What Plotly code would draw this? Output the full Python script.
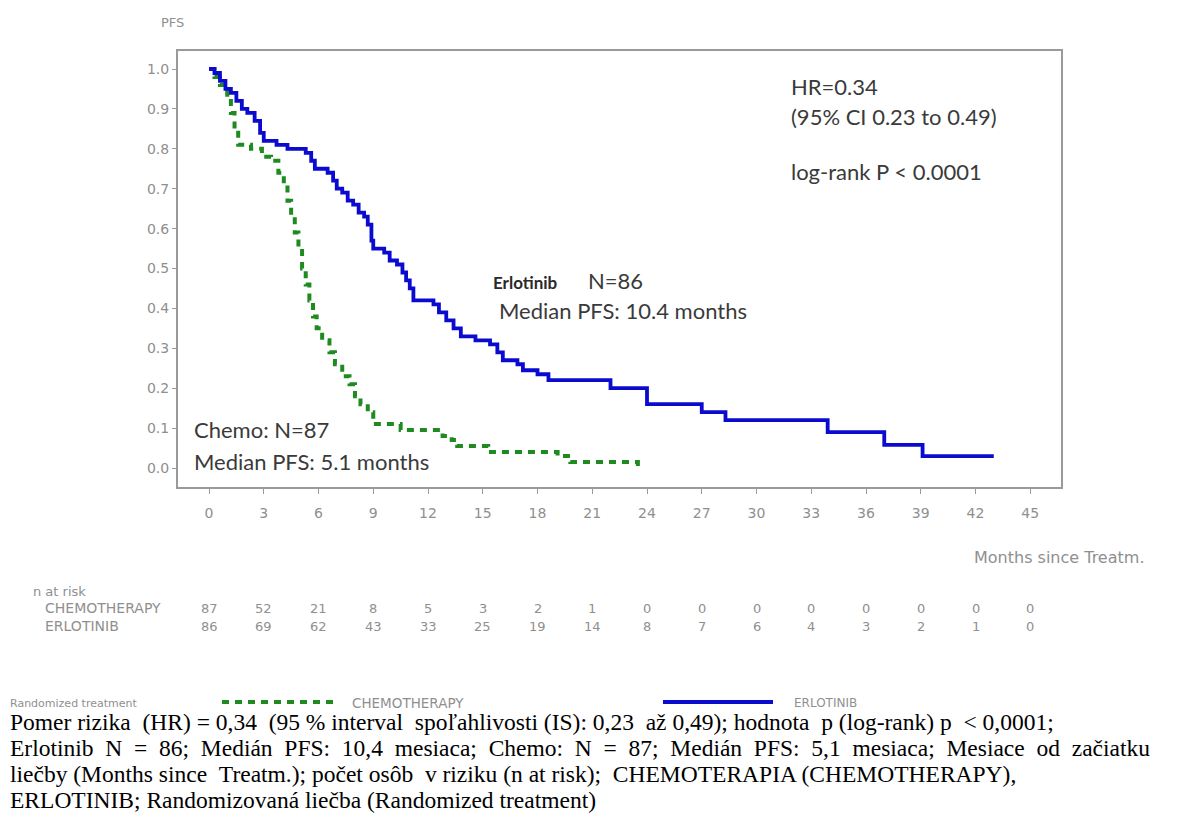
import plotly.graph_objects as go

# ---------------- data ----------------
erlo_t = [0, 0.3, 0.6, 0.9, 1.2, 1.5, 1.8, 2.1, 2.5, 2.8, 3.0, 3.7, 4.3, 5.3, 5.6, 5.8, 6.5, 6.8,
          7.0, 7.3, 7.6, 7.9, 8.2, 8.5, 8.7, 8.9, 9.0, 9.6, 9.9, 10.3, 10.6, 10.8, 11.0, 11.2,
          12.3, 12.6, 13.0, 13.4, 13.8, 14.6, 15.4, 15.8, 16.1, 16.9, 17.2, 18.0, 18.6,
          22.0, 24.0, 27.0, 28.3, 33.9, 37.0, 39.1, 43.0]
erlo_s = [1.0, 0.99, 0.97, 0.95, 0.94, 0.92, 0.90, 0.89, 0.87, 0.84, 0.82, 0.81, 0.80, 0.79, 0.77, 0.75, 0.74, 0.72,
          0.70, 0.69, 0.67, 0.66, 0.64, 0.63, 0.61, 0.57, 0.55, 0.54, 0.52, 0.51, 0.49, 0.47, 0.45, 0.42,
          0.41, 0.39, 0.37, 0.35, 0.33, 0.32, 0.31, 0.29, 0.27, 0.26, 0.245, 0.235, 0.22,
          0.20, 0.16, 0.14, 0.12, 0.09, 0.058, 0.03, 0.03]

chemo_t = [0, 0.3, 0.6, 1.0, 1.2, 1.4, 1.6, 2.3, 2.9, 3.4, 3.8, 4.1, 4.3, 4.5, 4.7, 4.9, 5.1, 5.3,
           5.5, 5.7, 5.9, 6.2, 6.6, 6.9, 7.3, 7.7, 8.0, 8.3, 8.7, 9.0, 10.5, 12.8, 13.3, 13.6,
           15.3, 19.1, 19.8, 23.5]
chemo_s = [1.0, 0.98, 0.96, 0.93, 0.89, 0.85, 0.81, 0.80, 0.78, 0.77, 0.74, 0.71, 0.67, 0.63, 0.59, 0.55, 0.50, 0.46,
           0.42, 0.38, 0.35, 0.32, 0.29, 0.26, 0.23, 0.21, 0.18, 0.16, 0.14, 0.11, 0.095, 0.08, 0.07, 0.055,
           0.04, 0.03, 0.015, 0.0]

risk_times = [0, 3, 6, 9, 12, 15, 18, 21, 24, 27, 30, 33, 36, 39, 42, 45]
risk_chemo = [87, 52, 21, 8, 5, 3, 2, 1, 0, 0, 0, 0, 0, 0, 0, 0]
risk_erlo = [86, 69, 62, 43, 33, 25, 19, 14, 8, 7, 6, 4, 3, 2, 1, 0]

y_ticks = [0.0, 0.1, 0.2, 0.3, 0.4, 0.5, 0.6, 0.7, 0.8, 0.9, 1.0]
x_ticks = risk_times

caption_lines = [
    "Pomer rizika (HR) = 0,34 (95 % interval spoľahlivosti (IS): 0,23 až 0,49); hodnota p (log-rank) p < 0,0001;",
    "Erlotinib N = 86; Medián PFS: 10,4 mesiaca; Chemo: N = 87; Medián PFS: 5,1 mesiaca; Mesiace od začiatku",
    "liečby (Months since Treatm.); počet osôb v riziku (n at risk); CHEMOTERAPIA (CHEMOTHERAPY),",
    "ERLOTINIB; Randomizovaná liečba (Randomized treatment)",
]
# extra word spacing of the printed caption lines, in units of a space
caption_extra_spaces = [6, 18, 3, 0]

# ---------------- layout geometry (reference pixel coords; page has 8px body margin) ----------------
OFF = 8
W, H = 1179, 818
L, R, T, B = 178, 1061, 51, 487   # plot box in reference pixels

def px(x):
    return (x - L) / (R - L)

def py(y):
    return (B - y) / (B - T)

BLUE = "#0b0bd0"
GREEN = "#1f8a1f"
GRAY = "#8f8f8f"
SANS = "DejaVu Sans"
CAL = "Lato"

fig = go.Figure()
fig.add_trace(go.Scatter(x=chemo_t, y=chemo_s, mode="lines", line_shape="hv",
                         line=dict(color=GREEN, width=4, dash="7px,6px"),
                         name="CHEMOTHERAPY", showlegend=False))
fig.add_trace(go.Scatter(x=erlo_t, y=erlo_s, mode="lines", line_shape="hv",
                         line=dict(color=BLUE, width=3.8),
                         name="ERLOTINIB", showlegend=False))

ann = []

def text(x, y, s, size, color="#3a3a3a", family=CAL, anchor="left", bold=False):
    if bold:
        s = "<b>" + s + "</b>"
    ann.append(dict(x=px(x), y=py(y), xref="paper", yref="paper", text=s, showarrow=False,
                    xanchor=anchor, yanchor="middle", font=dict(size=size, color=color, family=family)))

text(172, 22, "PFS", 13, GRAY, SANS, "center")
text(789, 86, "HR=0.34", 22)
text(789, 117, "(95% CI 0.23 to 0.49)", 22)
text(789, 172, "log-rank P < 0.0001", 22)
text(491, 282, "Erlotinib", 17, "#2a2a2a", CAL, "left", bold=True)
text(586, 280, "N=86", 22)
text(497, 310, "Median PFS: 10.4 months", 22)
text(192, 429, "Chemo: N=87", 22)
text(192, 461, "Median PFS: 5.1 months", 22)
text(1146, 557, "Months since Treatm.", 16, GRAY, SANS, "right")

# risk table
text(31, 591, "n at risk", 13, GRAY, SANS)
text(43, 608, "CHEMOTHERAPY", 14, GRAY, SANS)
text(43, 626, "ERLOTINIB", 14, GRAY, SANS)
for t, c, e in zip(risk_times, risk_chemo, risk_erlo):
    ann.append(dict(x=t, y=py(608), xref="x", yref="paper", text=str(c), showarrow=False,
                    xanchor="center", yanchor="middle", font=dict(size=13, color=GRAY, family=SANS)))
    ann.append(dict(x=t, y=py(626), xref="x", yref="paper", text=str(e), showarrow=False,
                    xanchor="center", yanchor="middle", font=dict(size=13, color=GRAY, family=SANS)))

# legend row
text(OFF, 703, "Randomized treatment", 11, GRAY, SANS)
text(350, 703, "CHEMOTHERAPY", 13.5, GRAY, SANS)
text(792, 703, "ERLOTINIB", 12, GRAY, SANS)


def spread(line, extra):
    words = line.split(" ")
    gaps = len(words) - 1
    out = words[0]
    done = 0
    for i in range(1, len(words)):
        target = round(extra * i / gaps) if gaps else 0
        n = target - done
        done = target
        out += " " + "\u00a0" * n + words[i]
    return out


# caption (one annotation per printed line)
for y, line, ex in zip([722, 748, 774, 800], caption_lines, caption_extra_spaces):
    ann.append(dict(x=px(OFF), y=py(y), xref="paper", yref="paper", text=spread(line, ex),
                    showarrow=False, xanchor="left", yanchor="middle", align="left",
                    font=dict(size=23.5, color="#000000", family="Liberation Serif")))

shapes = [
    dict(type="line", xref="paper", yref="paper", x0=px(222), x1=px(333), y0=py(702), y1=py(702),
         line=dict(color=GREEN, width=4, dash="7px,6px")),
    dict(type="line", xref="paper", yref="paper", x0=px(663), x1=px(773), y0=py(702), y1=py(702),
         line=dict(color=BLUE, width=4)),
]

fig.update_layout(
    width=W, height=H,
    margin=dict(l=L - OFF, r=W - (R - OFF), t=T - OFF, b=H - (B - OFF)),
    paper_bgcolor="white", plot_bgcolor="white",
    annotations=ann, shapes=shapes,
    showlegend=False,
    xaxis=dict(range=[(L - 209) / 18.25, (R - 209) / 18.25], tickvals=x_ticks,
               ticktext=[str(v) for v in x_ticks], ticks="outside", ticklen=5, tickcolor="#9a9a9a",
               showline=True, linecolor="#9a9a9a", linewidth=2, mirror=True, showgrid=False,
               zeroline=False, tickfont=dict(size=14, color=GRAY, family=SANS), ticklabelstandoff=7),
    yaxis=dict(range=[(468 - B) / 399, (468 - T) / 399], tickvals=y_ticks,
               ticktext=["%.1f" % v for v in y_ticks], ticks="outside", ticklen=4, tickcolor="#9a9a9a",
               showline=True, linecolor="#9a9a9a", linewidth=2, mirror=True, showgrid=False,
               zeroline=False, tickfont=dict(size=14, color=GRAY, family=SANS)),
)

fig.write_html("out.html")
